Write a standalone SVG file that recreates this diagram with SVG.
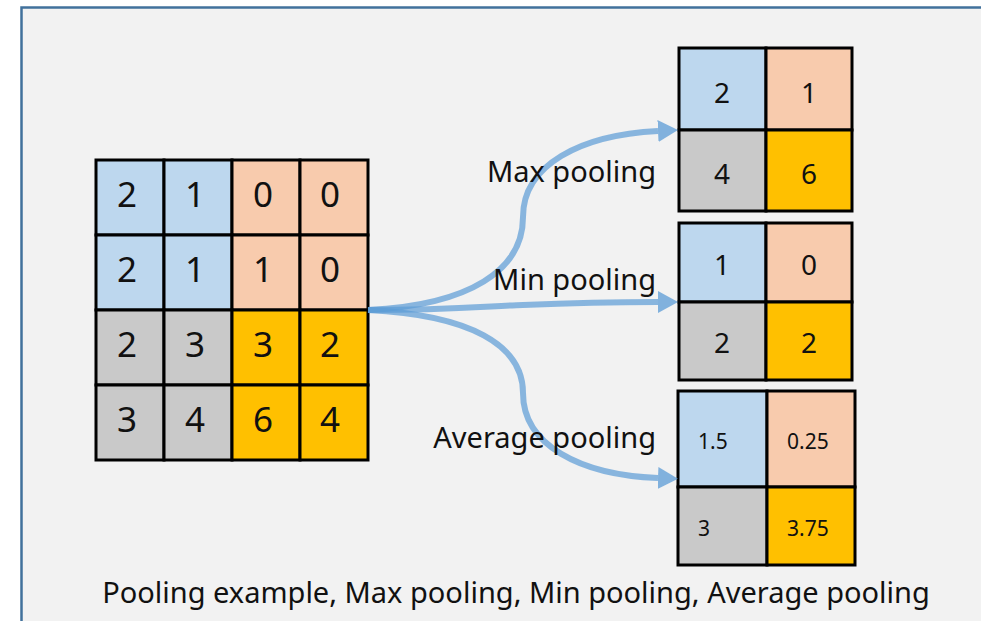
<svg xmlns="http://www.w3.org/2000/svg" width="981" height="621" viewBox="0 0 981 621">
  <defs>
    <style>
      .cell { stroke: #000; stroke-width: 3; }
      .blue { fill: #BDD7EE; }
      .peach { fill: #F8CBAD; }
      .gray { fill: #C9C9C9; }
      .gold { fill: #FFC000; }
      .big { font-family: "Noto Sans", "Open Sans", sans-serif; font-size: 35px; fill: #111; text-anchor: middle; }
      .mid { font-family: "Noto Sans", "Open Sans", sans-serif; font-size: 28px; fill: #111; text-anchor: middle; }
      .small { font-family: "Noto Sans", "Open Sans", sans-serif; font-size: 21px; fill: #111; }
      .label { font-family: "Noto Sans", "Open Sans", sans-serif; font-size: 29px; fill: #111; text-anchor: end; }
      .caption { font-family: "Noto Sans", "Open Sans", sans-serif; font-size: 29px; fill: #111; text-anchor: middle; }
      .arrow { fill: none; stroke: #5B9BD5; stroke-width: 6; stroke-opacity: 0.7; }
    </style>
    <marker id="head" viewBox="0 0 20 22" refX="0" refY="11" markerWidth="20" markerHeight="22" orient="auto" markerUnits="userSpaceOnUse">
      <path d="M0,0 L20,11 L0,22 Z" fill="#5B9BD5" fill-opacity="0.75"/>
    </marker>
  </defs>

  <!-- frame -->
  <rect x="0" y="0" width="981" height="621" fill="#ffffff"/>
  <rect x="21.5" y="7.5" width="980" height="640" fill="#F2F2F2" stroke="#41719C" stroke-width="2.5"/>

  <!-- input feature map 4x4 -->
  <g id="input-grid">
    <rect class="cell blue" x="96" y="160" width="68" height="75"/>
    <rect class="cell blue" x="164" y="160" width="68" height="75"/>
    <rect class="cell peach" x="232" y="160" width="68" height="75"/>
    <rect class="cell peach" x="300" y="160" width="68" height="75"/>
    <rect class="cell blue" x="96" y="235" width="68" height="75"/>
    <rect class="cell blue" x="164" y="235" width="68" height="75"/>
    <rect class="cell peach" x="232" y="235" width="68" height="75"/>
    <rect class="cell peach" x="300" y="235" width="68" height="75"/>
    <rect class="cell gray" x="96" y="310" width="68" height="75"/>
    <rect class="cell gray" x="164" y="310" width="68" height="75"/>
    <rect class="cell gold" x="232" y="310" width="68" height="75"/>
    <rect class="cell gold" x="300" y="310" width="68" height="75"/>
    <rect class="cell gray" x="96" y="385" width="68" height="75"/>
    <rect class="cell gray" x="164" y="385" width="68" height="75"/>
    <rect class="cell gold" x="232" y="385" width="68" height="75"/>
    <rect class="cell gold" x="300" y="385" width="68" height="75"/>
    <text class="big" x="127" y="207">2</text>
    <text class="big" x="195" y="207">1</text>
    <text class="big" x="263" y="207">0</text>
    <text class="big" x="330" y="207">0</text>
    <text class="big" x="127" y="282">2</text>
    <text class="big" x="195" y="282">1</text>
    <text class="big" x="263" y="282">1</text>
    <text class="big" x="330" y="282">0</text>
    <text class="big" x="127" y="357">2</text>
    <text class="big" x="195" y="357">3</text>
    <text class="big" x="263" y="357">3</text>
    <text class="big" x="330" y="357">2</text>
    <text class="big" x="127" y="432">3</text>
    <text class="big" x="195" y="432">4</text>
    <text class="big" x="263" y="432">6</text>
    <text class="big" x="330" y="432">4</text>
  </g>

  <!-- max pooling result -->
  <g id="max-grid">
    <rect class="cell blue" x="679" y="48" width="87" height="82"/>
    <rect class="cell peach" x="766" y="48" width="86" height="82"/>
    <rect class="cell gray" x="679" y="130" width="87" height="81"/>
    <rect class="cell gold" x="766" y="130" width="86" height="81"/>
    <text class="mid" x="722" y="103">2</text>
    <text class="mid" x="809" y="103">1</text>
    <text class="mid" x="722" y="184">4</text>
    <text class="mid" x="809" y="184">6</text>
  </g>

  <!-- min pooling result -->
  <g id="min-grid">
    <rect class="cell blue" x="679" y="223" width="87" height="79"/>
    <rect class="cell peach" x="766" y="223" width="86" height="79"/>
    <rect class="cell gray" x="679" y="302" width="87" height="78"/>
    <rect class="cell gold" x="766" y="302" width="86" height="78"/>
    <text class="mid" x="722" y="275">1</text>
    <text class="mid" x="809" y="275">0</text>
    <text class="mid" x="722" y="353">2</text>
    <text class="mid" x="809" y="353">2</text>
  </g>

  <!-- average pooling result -->
  <g id="avg-grid">
    <rect class="cell blue" x="678" y="391" width="89" height="96"/>
    <rect class="cell peach" x="767" y="391" width="88" height="96"/>
    <rect class="cell gray" x="678" y="487" width="89" height="78"/>
    <rect class="cell gold" x="767" y="487" width="88" height="78"/>
    <text class="small" x="698" y="449">1.5</text>
    <text class="small" x="787" y="449">0.25</text>
    <text class="small" x="698" y="536">3</text>
    <text class="small" x="787" y="536">3.75</text>
  </g>

  <!-- connectors -->
  <g id="connectors">
    <path class="arrow" marker-end="url(#head)" d="M368,310 C470,305 523,270 523,217 C523,165 580,135 658,131"/>
    <path class="arrow" marker-end="url(#head)" d="M368,310 C450,310 490,306 523,305 C570,303 620,302 658,302"/>
    <path class="arrow" marker-end="url(#head)" d="M368,310 C470,315 523,345 523,393 C523,445 580,475 658,478"/>
  </g>

  <!-- labels -->
  <g id="labels">
    <text class="label" x="656" y="182">Max pooling</text>
    <text class="label" x="656" y="290">Min pooling</text>
    <text class="label" x="656" y="448">Average pooling</text>
    <text class="caption" x="516" y="603">Pooling example, Max pooling, Min pooling, Average pooling</text>
  </g>
</svg>
